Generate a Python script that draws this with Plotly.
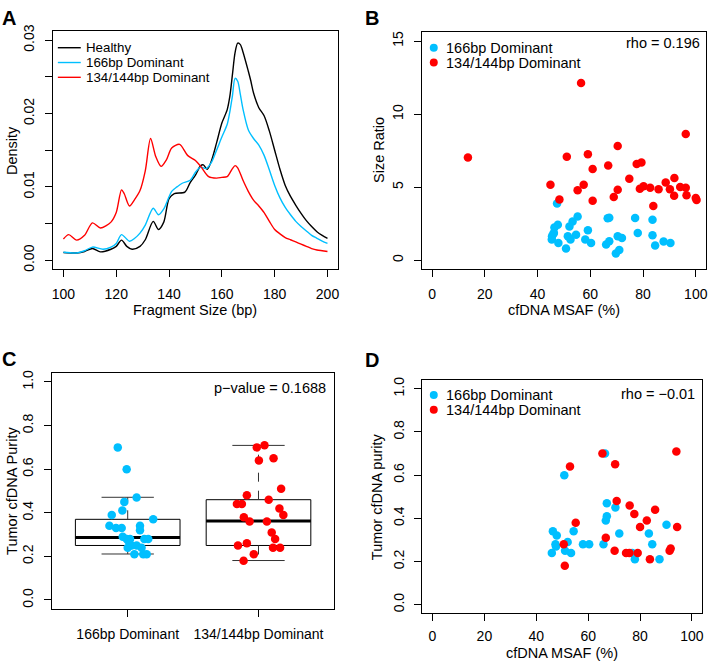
import numpy as np
import plotly.graph_objects as go

# ---- panel A: fragment size density (values in units of 1e-3) ----
bp_healthy = [100, 105, 108, 111, 114, 118, 120, 122, 124, 126, 129, 131, 134, 136, 138, 140, 142, 146, 148, 150,
              152, 153, 154.5, 156, 158, 160, 162, 163, 164, 165, 166, 167, 168, 170, 171, 172, 174, 176, 178, 180,
              182, 184, 186, 188, 190, 192, 194, 196, 198, 200]
dens_healthy = [1.05, 1.0, 1.2, 1.6, 1.15, 1.5, 1.9, 2.75, 1.9, 1.5, 1.9, 2.8, 5.3, 4.2, 5.2, 8.4, 9.1, 9.3, 10.6, 11.6,
                12.9, 13.0, 12.4, 13.5, 16.0, 18.7, 20.5, 22.3, 25.3, 28.3, 29.6, 29.4, 28.4, 25.8, 24.4, 22.8, 20.8, 19.7, 17.6, 15.0,
                12.4, 10.2, 8.7, 7.5, 6.4, 5.4, 4.6, 3.9, 3.4, 3.0]

bp_166 = [100, 105, 108, 111, 115, 118, 120, 122, 125, 127, 129, 131, 134, 136, 138, 141, 143, 145, 148, 150,
          152, 154, 156, 158, 160, 162, 163, 164, 165, 166, 167, 168, 170, 172, 174, 176, 178, 180, 182, 184,
          186, 188, 190, 192, 194, 196, 198, 200]
dens_166 = [1.1, 1.0, 1.3, 1.8, 1.5, 1.8, 2.3, 3.5, 2.6, 3.0, 3.7, 4.8, 7.1, 6.2, 7.0, 9.4, 10.0, 10.5, 10.9, 12.0,
            12.7, 12.5, 13.3, 15.0, 16.8, 18.5, 20.2, 22.4, 24.8, 24.4, 22.6, 20.6, 17.8, 16.6, 15.7, 14.3, 12.3, 10.2, 8.5, 7.2,
            6.2, 5.3, 4.6, 4.0, 3.4, 3.0, 2.6, 2.3]

bp_134 = [100, 102, 105, 108, 111, 114, 118, 120, 122, 123, 125, 127, 129, 131, 133, 135, 137, 139, 141, 144,
          147, 150, 152, 155, 158, 160, 162, 164, 165, 166, 168, 170, 172, 174, 176, 178, 180, 182, 184, 186,
          188, 190, 192, 194, 196, 198, 200]
dens_134 = [2.9, 3.5, 2.75, 3.4, 5.1, 4.4, 5.2, 6.5, 9.6, 9.1, 7.4, 8.3, 9.5, 12.2, 16.6, 14.1, 12.8, 13.7, 15.3, 15.8,
            14.3, 13.6, 12.8, 11.4, 11.2, 11.3, 11.4, 12.5, 12.9, 12.6, 10.9, 9.4, 8.2, 7.4, 6.5, 5.3, 4.2, 3.6, 3.1, 2.8,
            2.5, 2.2, 1.9, 1.6, 1.4, 1.3, 1.2]

# ---- panel B: size ratio vs cfDNA MSAF ----
b_blue_x = [47.4, 46.4, 47.7, 45.5, 46.2, 45.4, 47.9, 50.8, 52.1, 53.3, 55.2, 51.5, 52.5, 54.6, 58.1, 60.3,
            59.1, 66.6, 67.2, 66.0, 67.2, 70.4, 72.0, 69.7, 71.0, 77.0, 78.0, 83.6, 83.6, 84.6, 87.8, 90.4, 46.0]
b_blue_y = [3.89, 2.25, 2.43, 1.64, 1.87, 1.42, 1.19, 0.81, 2.32, 2.65, 2.99, 1.64, 1.42, 1.75, 1.42, 1.19,
            2.05, 2.88, 2.92, 1.08, 1.30, 1.64, 1.53, 0.47, 0.70, 2.90, 1.87, 2.77, 1.71, 1.01, 1.28, 1.19, 1.82]
b_red_x = [13.6, 51.1, 59.1, 70.4, 60.9, 66.8, 77.6, 79.4, 74.8, 91.9, 44.9, 57.5, 55.2, 48.3, 60.9, 68.9,
           70.4, 78.8, 80.2, 82.7, 85.9, 88.6, 90.2, 91.8, 94.1, 96.2, 96.5, 100.0, 100.3, 83.9, 56.5, 96.2]
b_red_y = [7.04, 7.08, 7.26, 7.83, 6.25, 6.48, 6.59, 6.70, 5.58, 5.64, 5.17, 5.17, 4.79, 4.16, 4.07, 4.34,
           4.83, 4.90, 5.06, 4.97, 4.86, 5.33, 4.86, 4.41, 5.01, 4.97, 4.45, 4.27, 4.12, 3.71, 12.13, 8.64]

# ---- panel C: tumor purity by group (box stats + jittered points) ----
groups = ["166bp Dominant", "134/144bp Dominant"]
box_q1 = [0.25, 0.25]
box_med = [0.287, 0.362]
box_q3 = [0.37, 0.46]
box_lo = [0.211, 0.181]
box_hi = [0.471, 0.709]
c_blue_x = [0.924, 0.992, 1.068, 0.974, 0.959, 0.878, 1.195, 0.860, 0.911, 0.954, 1.094, 1.094, 0.962,
            0.992, 1.018, 1.127, 1.157, 1.005, 1.030, 1.068, 1.106, 1.051, 1.119, 1.145, 1.000]
c_blue_y = [0.70, 0.60, 0.47, 0.45, 0.41, 0.39, 0.37, 0.34, 0.33, 0.33, 0.34, 0.32, 0.29,
            0.28, 0.28, 0.28, 0.28, 0.27, 0.25, 0.25, 0.24, 0.21, 0.21, 0.21, 0.24]
c_red_x = [1.987, 2.046, 2.003, 2.115, 2.173, 1.911, 1.835, 1.873, 2.078, 2.160, 2.190, 1.888, 1.932,
           2.064, 2.101, 2.127, 1.843, 1.911, 2.111, 2.165, 1.964, 1.886]
c_red_y = [0.70, 0.71, 0.64, 0.65, 0.51, 0.48, 0.44, 0.44, 0.46, 0.42, 0.39, 0.38, 0.36,
           0.36, 0.31, 0.28, 0.25, 0.26, 0.24, 0.24, 0.21, 0.18]

# ---- panel D: tumor purity vs cfDNA MSAF ----
d_blue_x = [66.5, 50.8, 67.2, 70.5, 67.2, 66.8, 46.4, 47.9, 54.4, 72.0, 83.4, 90.2, 47.4, 47.6, 52.1,
            58.0, 60.4, 65.9, 84.7, 46.0, 51.1, 53.4, 78.0, 87.5, 77.0]
d_blue_y = [0.70, 0.60, 0.47, 0.45, 0.41, 0.39, 0.34, 0.32, 0.34, 0.33, 0.33, 0.37, 0.28, 0.27, 0.29,
            0.28, 0.28, 0.28, 0.28, 0.24, 0.25, 0.24, 0.21, 0.21, 0.24]
d_red_x = [65.5, 94.0, 53.0, 70.4, 71.0, 76.0, 77.8, 85.8, 82.6, 55.2, 80.0, 94.3, 66.8, 50.6, 70.2,
           91.8, 91.4, 74.6, 75.9, 79.1, 83.8, 51.0]
d_red_y = [0.70, 0.71, 0.64, 0.65, 0.48, 0.46, 0.42, 0.44, 0.39, 0.38, 0.36, 0.36, 0.31, 0.28, 0.25,
           0.26, 0.25, 0.24, 0.24, 0.24, 0.21, 0.18]

BLUE = "#00BFFF"
RED = "#FF0000"
FONT = "Liberation Sans, Arial, Helvetica, sans-serif"
W, H = 710, 663


def px(x):
    return x / W


def py(y):
    return 1 - y / H


fig = go.Figure()

# A
for xs, ys, name, col in [(bp_healthy, dens_healthy, "Healthy", "black"),
                          (bp_166, dens_166, "166bp Dominant", BLUE),
                          (bp_134, dens_134, "134/144bp Dominant", RED)]:
    fig.add_trace(go.Scatter(x=xs, y=np.array(ys) * 1e-3, mode="lines", name=name,
                             line=dict(color=col, width=1.4, shape="spline", smoothing=0.8),
                             xaxis="x", yaxis="y"))

# B
fig.add_trace(go.Scatter(x=b_blue_x, y=b_blue_y, mode="markers", name="166bp Dominant",
                         marker=dict(color=BLUE, size=8.5), xaxis="x2", yaxis="y2"))
fig.add_trace(go.Scatter(x=b_red_x, y=b_red_y, mode="markers", name="134/144bp Dominant",
                         marker=dict(color=RED, size=8.5), xaxis="x2", yaxis="y2"))

# C boxes (whiskers drawn separately as dashed lines, like R)
pos = [1, 2]
fig.add_trace(go.Box(x=pos, q1=box_q1, median=box_med, q3=box_q3, lowerfence=box_q1, upperfence=box_q3,
                     width=0.8, whiskerwidth=0, fillcolor="white", line=dict(color="black", width=1),
                     boxpoints=False, xaxis="x3", yaxis="y3"))
for p, q1, m, q3, lo, hi in zip(pos, box_q1, box_med, box_q3, box_lo, box_hi):
    fig.add_trace(go.Scatter(x=[p, p, None, p, p], y=[q3, hi, None, q1, lo], mode="lines",
                             line=dict(color="#333333", width=1, dash="dash"), xaxis="x3", yaxis="y3"))
    fig.add_trace(go.Scatter(x=[p - 0.2, p + 0.2, None, p - 0.2, p + 0.2], y=[hi, hi, None, lo, lo], mode="lines",
                             line=dict(color="#333333", width=1), xaxis="x3", yaxis="y3"))
    fig.add_trace(go.Scatter(x=[p - 0.4, p + 0.4], y=[m, m], mode="lines",
                             line=dict(color="black", width=3), xaxis="x3", yaxis="y3"))
fig.add_trace(go.Scatter(x=c_blue_x, y=c_blue_y, mode="markers", marker=dict(color=BLUE, size=8.5),
                         xaxis="x3", yaxis="y3"))
fig.add_trace(go.Scatter(x=c_red_x, y=c_red_y, mode="markers", marker=dict(color=RED, size=8.5),
                         xaxis="x3", yaxis="y3"))

# D
fig.add_trace(go.Scatter(x=d_blue_x, y=d_blue_y, mode="markers", name="166bp Dominant",
                         marker=dict(color=BLUE, size=8.5), xaxis="x4", yaxis="y4"))
fig.add_trace(go.Scatter(x=d_red_x, y=d_red_y, mode="markers", name="134/144bp Dominant",
                         marker=dict(color=RED, size=8.5), xaxis="x4", yaxis="y4"))

ax = dict(showline=True, linecolor="black", linewidth=1, mirror=True, ticks="outside", ticklen=7,
          tickcolor="black", tickwidth=1, showgrid=False, zeroline=False, tickfont=dict(size=14),
          ticklabelstandoff=5)
yax = dict(ax, tickangle=-90)

fig.update_layout(
    width=W, height=H, margin=dict(l=0, r=0, t=0, b=0),
    paper_bgcolor="white", plot_bgcolor="white",
    font=dict(family=FONT, size=14, color="black"),
    showlegend=False, hovermode=False,
    xaxis=dict(ax, anchor="y", domain=[px(52), px(338)], range=[96, 204],
               tickvals=[100, 120, 140, 160, 180, 200]),
    yaxis=dict(yax, anchor="x", domain=[py(266.7), py(25)], range=[-0.0012, 0.0313],
               tickvals=[0, 0.005, 0.01, 0.015, 0.02, 0.025, 0.03],
               ticktext=["0.00", "", "0.01", "", "0.02", "", "0.03"]),
    xaxis2=dict(ax, anchor="y2", domain=[px(421.7), px(707.3)], range=[-4, 104],
                tickvals=[0, 20, 40, 60, 80, 100]),
    yaxis2=dict(yax, anchor="x2", domain=[py(266.7), py(26.7)], range=[-0.6, 15.6], tickvals=[0, 5, 10, 15]),
    xaxis3=dict(ax, anchor="y3", domain=[px(51), px(334.3)], range=[0.42, 2.58], tickvals=pos, ticktext=groups),
    yaxis3=dict(yax, anchor="x3", domain=[py(611), py(372.3)], range=[-0.04, 1.04],
                tickvals=[0, 0.2, 0.4, 0.6, 0.8, 1.0], tickformat=".1f"),
    xaxis4=dict(ax, anchor="y4", domain=[px(422.3), px(703.3)], range=[-4, 104],
                tickvals=[0, 20, 40, 60, 80, 100], ticklabelstandoff=3),
    yaxis4=dict(yax, anchor="x4", domain=[py(615.7), py(379.3)], range=[-0.04, 1.04],
                tickvals=[0, 0.2, 0.4, 0.6, 0.8, 1.0], tickformat=".1f"),
)

ann = [
    dict(text="<b>A</b>", x=px(8), y=py(12.5), font=dict(size=20)),
    dict(text="<b>B</b>", x=px(372), y=py(12.5), font=dict(size=20)),
    dict(text="<b>C</b>", x=px(8.5), y=py(358), font=dict(size=20)),
    dict(text="<b>D</b>", x=px(372), y=py(358.5), font=dict(size=20)),
    dict(text="Fragment Size (bp)", x=px(195), y=py(308), font=dict(size=14.5)),
    dict(text="Density", x=px(11), y=py(146), textangle=-90, font=dict(size=14.5)),
    dict(text="cfDNA MSAF (%)", x=px(564.5), y=py(308), font=dict(size=14.5)),
    dict(text="Size Ratio", x=px(379), y=py(146), textangle=-90, font=dict(size=14.5)),
    dict(text="Tumor cfDNA Purity", x=px(11), y=py(491.6), textangle=-90, font=dict(size=14.5)),
    dict(text="cfDNA MSAF (%)", x=px(563), y=py(656), font=dict(size=14.5)),
    dict(text="Tumor cfDNA purity", x=px(377), y=py(497), textangle=-90, font=dict(size=14.5)),
    dict(text="rho = 0.196", x=px(703), y=py(38), xanchor="right", font=dict(size=14.5)),
    dict(text="p\u2212value = 0.1688", x=px(328), y=py(387), xanchor="right", font=dict(size=14.5)),
    dict(text="rho = \u22120.01", x=px(698), y=py(393), xanchor="right", font=dict(size=14.5)),
]

# R-style legends: tight rows, drawn as shapes + text
shapes = []
for i, (name, col) in enumerate([("Healthy", "black"), ("166bp Dominant", BLUE), ("134/144bp Dominant", RED)]):
    yy = 42.3 + 15 * i
    shapes.append(dict(type="line", x0=px(57), x1=px(80), y0=py(yy), y1=py(yy),
                       line=dict(color=col, width=1.4)))
    ann.append(dict(text=name, x=px(83), y=py(yy), xanchor="left", font=dict(size=13.3)))
for top in (42.3, 394.3):
    for i, (name, col) in enumerate([("166bp Dominant", BLUE), ("134/144bp Dominant", RED)]):
        yy = top + 15 * i
        shapes.append(dict(type="circle", x0=px(434 - 4), x1=px(434 + 4), y0=py(yy + 4), y1=py(yy - 4),
                           fillcolor=col, line=dict(width=0)))
        ann.append(dict(text=name, x=px(444), y=py(yy), xanchor="left", font=dict(size=14.5)))

for a in ann:
    a.update(xref="paper", yref="paper", showarrow=False)
    a.setdefault("xanchor", "center")
    a.setdefault("yanchor", "middle")
for s in shapes:
    s.update(xref="paper", yref="paper")
fig.update_layout(annotations=ann, shapes=shapes)

# drop the default 8px page margin so the figure sits at the window origin
fig.write_html("out.html", config={"displayModeBar": False},
               post_script="document.body.style.margin='0';")
